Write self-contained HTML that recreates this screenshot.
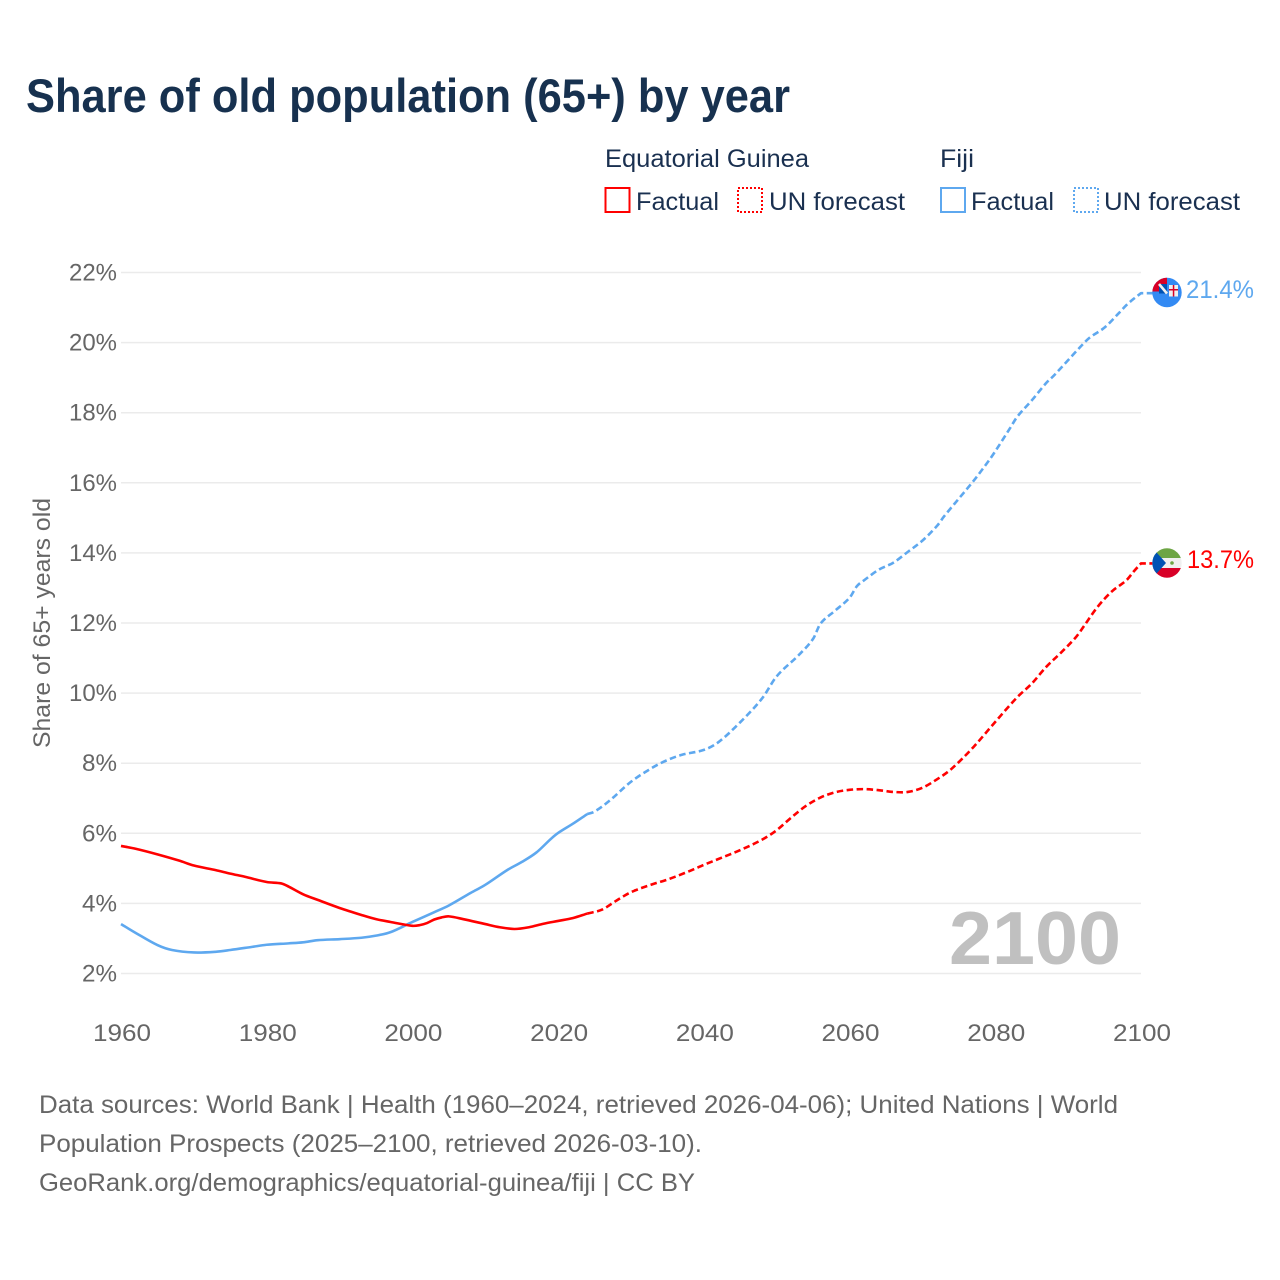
<!DOCTYPE html>
<html lang="en">
<head>
<meta charset="utf-8">
<title>Share of old population (65+) by year</title>
<style>
html,body{margin:0;padding:0;background:#fff;width:1280px;height:1280px;overflow:hidden}
svg{display:block}
text{font-family:"Liberation Sans",sans-serif}
.tick{fill:#666;font-size:24px}
.leg{fill:#1a3050;font-size:25px}
.foot{fill:#666;font-size:25px}
</style>
</head>
<body>
<svg id="chart" xmlns="http://www.w3.org/2000/svg" width="1280" height="1280" viewBox="0 0 1280 1280">
  <rect width="1280" height="1280" fill="#fff"/>
  <text x="26" y="112" font-size="47" font-weight="700" fill="#17314f" textLength="764" lengthAdjust="spacingAndGlyphs">Share of old population (65+) by year</text>

  <g>
    <text class="leg" x="605" y="167" textLength="204" lengthAdjust="spacingAndGlyphs">Equatorial Guinea</text>
    <text class="leg" x="940" y="167" textLength="34" lengthAdjust="spacingAndGlyphs">Fiji</text>
    <rect x="605.5" y="188" width="24" height="24" fill="none" stroke="#ff0000" stroke-width="2"/>
    <text class="leg" x="636" y="210" textLength="83" lengthAdjust="spacingAndGlyphs">Factual</text>
    <rect x="738" y="188" width="24" height="24" fill="none" stroke="#ff0000" stroke-width="2" stroke-dasharray="2 2"/>
    <text class="leg" x="769" y="210" textLength="136" lengthAdjust="spacingAndGlyphs">UN forecast</text>
    <rect x="941" y="188" width="24" height="24" fill="none" stroke="#5ea8ef" stroke-width="2"/>
    <text class="leg" x="971" y="210" textLength="83" lengthAdjust="spacingAndGlyphs">Factual</text>
    <rect x="1074" y="188" width="24" height="24" fill="none" stroke="#5ea8ef" stroke-width="2" stroke-dasharray="2 2"/>
    <text class="leg" x="1104" y="210" textLength="136" lengthAdjust="spacingAndGlyphs">UN forecast</text>
  </g>

  <g id="grid"></g>
  <g id="yticks"></g>
  <g id="xticks"></g>
  <text transform="translate(50,748) rotate(-90)" font-size="24" fill="#666" textLength="250" lengthAdjust="spacingAndGlyphs">Share of 65+ years old</text>
  <text x="949" y="964" font-size="75" font-weight="700" fill="#c0c0c0" textLength="172" lengthAdjust="spacingAndGlyphs">2100</text>

  <g id="series"></g>

  <defs>
    <clipPath id="flag-clip-fj"><circle cx="1167" cy="292.5" r="14.7"/></clipPath>
    <clipPath id="flag-clip-gq"><circle cx="1167" cy="563" r="14.7"/></clipPath>
  </defs>
  <g id="flag-fiji" clip-path="url(#flag-clip-fj)">
    <rect x="1151" y="277" width="32" height="32" fill="#338af3"/>
    <rect x="1151" y="277" width="16" height="14.5" fill="#d80027"/>
    <rect x="1159" y="284" width="8" height="9.5" fill="#0052b4"/>
    <path d="M1159 284 L1167 293.5" stroke="#f0f0f0" stroke-width="2.6"/>
    <rect x="1169" y="285" width="9" height="11.5" fill="#f0f0f0"/>
    <rect x="1172.8" y="285" width="1.5" height="11.5" fill="#d80027"/>
    <rect x="1169" y="289" width="9" height="1.5" fill="#d80027"/>
  </g>
  <g id="flag-eq-guinea" clip-path="url(#flag-clip-gq)">
    <rect x="1151" y="547" width="32" height="11" fill="#6da544"/>
    <rect x="1151" y="558" width="32" height="10" fill="#f0f0f0"/>
    <rect x="1151" y="568" width="32" height="11" fill="#d80027"/>
    <path d="M1149 544 L1166 563 L1149 582 Z" fill="#0052b4"/>
    <circle cx="1172" cy="563" r="1.8" fill="#6da544"/>
  </g>
  <text id="value-fiji" x="1186" y="298" font-size="25" fill="#5ea8ef" textLength="68" lengthAdjust="spacingAndGlyphs">21.4%</text>
  <text id="value-eq" x="1187" y="568" font-size="25" fill="#ff0000" textLength="67" lengthAdjust="spacingAndGlyphs">13.7%</text>

  <g>
    <text class="foot" x="39" y="1113" textLength="1079" lengthAdjust="spacingAndGlyphs">Data sources: World Bank | Health (1960–2024, retrieved 2026-04-06); United Nations | World</text>
    <text class="foot" x="39" y="1152" textLength="663" lengthAdjust="spacingAndGlyphs">Population Prospects (2025–2100, retrieved 2026-03-10).</text>
    <text class="foot" x="39" y="1191" textLength="656" lengthAdjust="spacingAndGlyphs">GeoRank.org/demographics/equatorial-guinea/fiji | CC BY</text>
  </g>
</svg>
<script>
const yTickValues = [2,4,6,8,10,12,14,16,18,20,22];
const xTickValues = [1960,1980,2000,2020,2040,2060,2080,2100];

const eqFactualYears = [1960,1962,1965,1968,1970,1973,1975,1977,1980,1982,1983,1985,1987,1990,1993,1995,1997,2000,2001,2002,2003,2004,2005,2007,2010,2012,2014,2016,2018,2020,2022,2024];
const eqFactualValues = [5.64,5.56,5.40,5.22,5.08,4.95,4.85,4.76,4.61,4.57,4.48,4.26,4.10,3.87,3.67,3.55,3.47,3.36,3.38,3.44,3.54,3.60,3.63,3.55,3.41,3.32,3.27,3.32,3.42,3.50,3.58,3.71];

const eqForecastYears = [2024,2026,2028,2030,2033,2035,2038,2040,2043,2045,2048,2050,2052,2054,2056,2058,2060,2062,2064,2066,2068,2070,2072,2074,2077,2080,2083,2085,2087,2089,2091,2092,2094,2096,2098,2099,2100];
const eqForecastValues = [3.71,3.82,4.08,4.32,4.55,4.68,4.92,5.10,5.35,5.52,5.82,6.09,6.45,6.78,7.02,7.17,7.24,7.26,7.23,7.18,7.18,7.30,7.54,7.84,8.46,9.18,9.88,10.27,10.75,11.15,11.58,11.86,12.45,12.90,13.22,13.47,13.70];

const fijiFactualYears = [1960,1962,1965,1967,1970,1973,1975,1978,1980,1983,1985,1987,1990,1993,1995,1997,2000,2003,2005,2008,2010,2013,2015,2017,2019,2020,2022,2024];
const fijiFactualValues = [3.41,3.16,2.81,2.67,2.60,2.62,2.67,2.76,2.82,2.86,2.89,2.95,2.98,3.02,3.08,3.18,3.47,3.75,3.94,4.30,4.53,4.95,5.18,5.45,5.84,6.01,6.27,6.55];

const fijiForecastYears = [2024,2025,2027,2030,2033,2035,2037,2040,2042,2045,2048,2050,2053,2055,2056,2058,2060,2061,2062,2064,2066,2068,2070,2072,2073,2075,2077,2079,2080,2082,2083,2085,2087,2088,2090,2092,2093,2095,2097,2098,2099,2100];
const fijiForecastValues = [6.55,6.62,6.92,7.47,7.88,8.09,8.24,8.38,8.60,9.17,9.85,10.48,11.08,11.55,11.98,12.35,12.72,13.05,13.22,13.52,13.72,14.03,14.35,14.77,15.05,15.55,16.05,16.60,16.90,17.55,17.88,18.35,18.85,19.05,19.50,19.95,20.15,20.43,20.85,21.07,21.25,21.41];

const NS = 'http://www.w3.org/2000/svg';
const xScale = function (year) { return 121 + (year - 1960) * (1141 - 121) / 140; };
const yScale = function (v) { return 973.5 - (v - 2) * (973.5 - 272.5) / 20; };
const pathFrom = function (years, values) {
  const pts = years.map(function (yr, i) { return [xScale(yr), yScale(values[i])]; });
  let d = 'M' + pts[0][0].toFixed(2) + ' ' + pts[0][1].toFixed(2);
  for (let i = 0; i < pts.length - 1; i++) {
    const p0 = pts[Math.max(i - 1, 0)];
    const p1 = pts[i];
    const p2 = pts[i + 1];
    const p3 = pts[Math.min(i + 2, pts.length - 1)];
    const seg = (p2[0] - p1[0]) / 3;
    const m1 = (p2[1] - p0[1]) / (p2[0] - p0[0]);
    const m2 = (p3[1] - p1[1]) / (p3[0] - p1[0]);
    d += ' C' + (p1[0] + seg).toFixed(2) + ' ' + (p1[1] + m1 * seg).toFixed(2) + ' ' +
         (p2[0] - seg).toFixed(2) + ' ' + (p2[1] - m2 * seg).toFixed(2) + ' ' +
         p2[0].toFixed(2) + ' ' + p2[1].toFixed(2);
  }
  return d;
};

const gridG = document.getElementById('grid');
const yG = document.getElementById('yticks');
const xG = document.getElementById('xticks');
const seriesG = document.getElementById('series');

yTickValues.forEach(function (v) {
  const ln = document.createElementNS(NS, 'line');
  
  
  ln.setAttribute('x1', 121);
  ln.setAttribute('x2', 1141);
  ln.setAttribute('y1', yScale(v));
  ln.setAttribute('y2', yScale(v));
  ln.setAttribute('stroke', '#ebebeb');
  ln.setAttribute('stroke-width', '1.5');
  gridG.appendChild(ln);

  const t = document.createElementNS(NS, 'text');
  
  
  t.setAttribute('class', 'tick');
  t.setAttribute('x', 117);
  t.setAttribute('y', yScale(v) + 8);
  t.setAttribute('text-anchor', 'end');
  t.setAttribute('textLength', v >= 10 ? 48 : 35);
  t.setAttribute('lengthAdjust', 'spacingAndGlyphs');
  t.textContent = v + '%';
  yG.appendChild(t);
});

xTickValues.forEach(function (yr) {
  const t = document.createElementNS(NS, 'text');
  
  
  t.setAttribute('class', 'tick');
  t.setAttribute('x', xScale(yr) + 1);
  t.setAttribute('y', 1041);
  t.setAttribute('text-anchor', 'middle');
  t.setAttribute('textLength', 58);
  t.setAttribute('lengthAdjust', 'spacingAndGlyphs');
  t.textContent = yr;
  xG.appendChild(t);
});

const addLine = function (name, d, color, dash) {
  const p = document.createElementNS(NS, 'path');
  
  
  p.setAttribute('d', d);
  p.setAttribute('fill', 'none');
  p.setAttribute('stroke', color);
  p.setAttribute('stroke-width', '2.6');
  p.setAttribute('stroke-linejoin', 'round');
  if (dash) { p.setAttribute('stroke-dasharray', dash); }
  seriesG.appendChild(p);
};

const lastX = xScale(2100);
const fijiEndY = yScale(fijiForecastValues[fijiForecastValues.length - 1]);
const eqEndY = yScale(eqForecastValues[eqForecastValues.length - 1]);
addLine('fiji-factual-line', pathFrom(fijiFactualYears, fijiFactualValues), '#5ea8ef', null);
addLine('fiji-forecast-line', pathFrom(fijiForecastYears, fijiForecastValues) + ' L' + (lastX + 12) + ' ' + fijiEndY, '#5ea8ef', '6.5 3.5');
addLine('equatorial-guinea-factual-line', pathFrom(eqFactualYears, eqFactualValues), '#ff0000', null);
addLine('equatorial-guinea-forecast-line', pathFrom(eqForecastYears, eqForecastValues) + ' L' + (lastX + 12) + ' ' + eqEndY, '#ff0000', '6.5 3.5');
</script>
</body>
</html>
